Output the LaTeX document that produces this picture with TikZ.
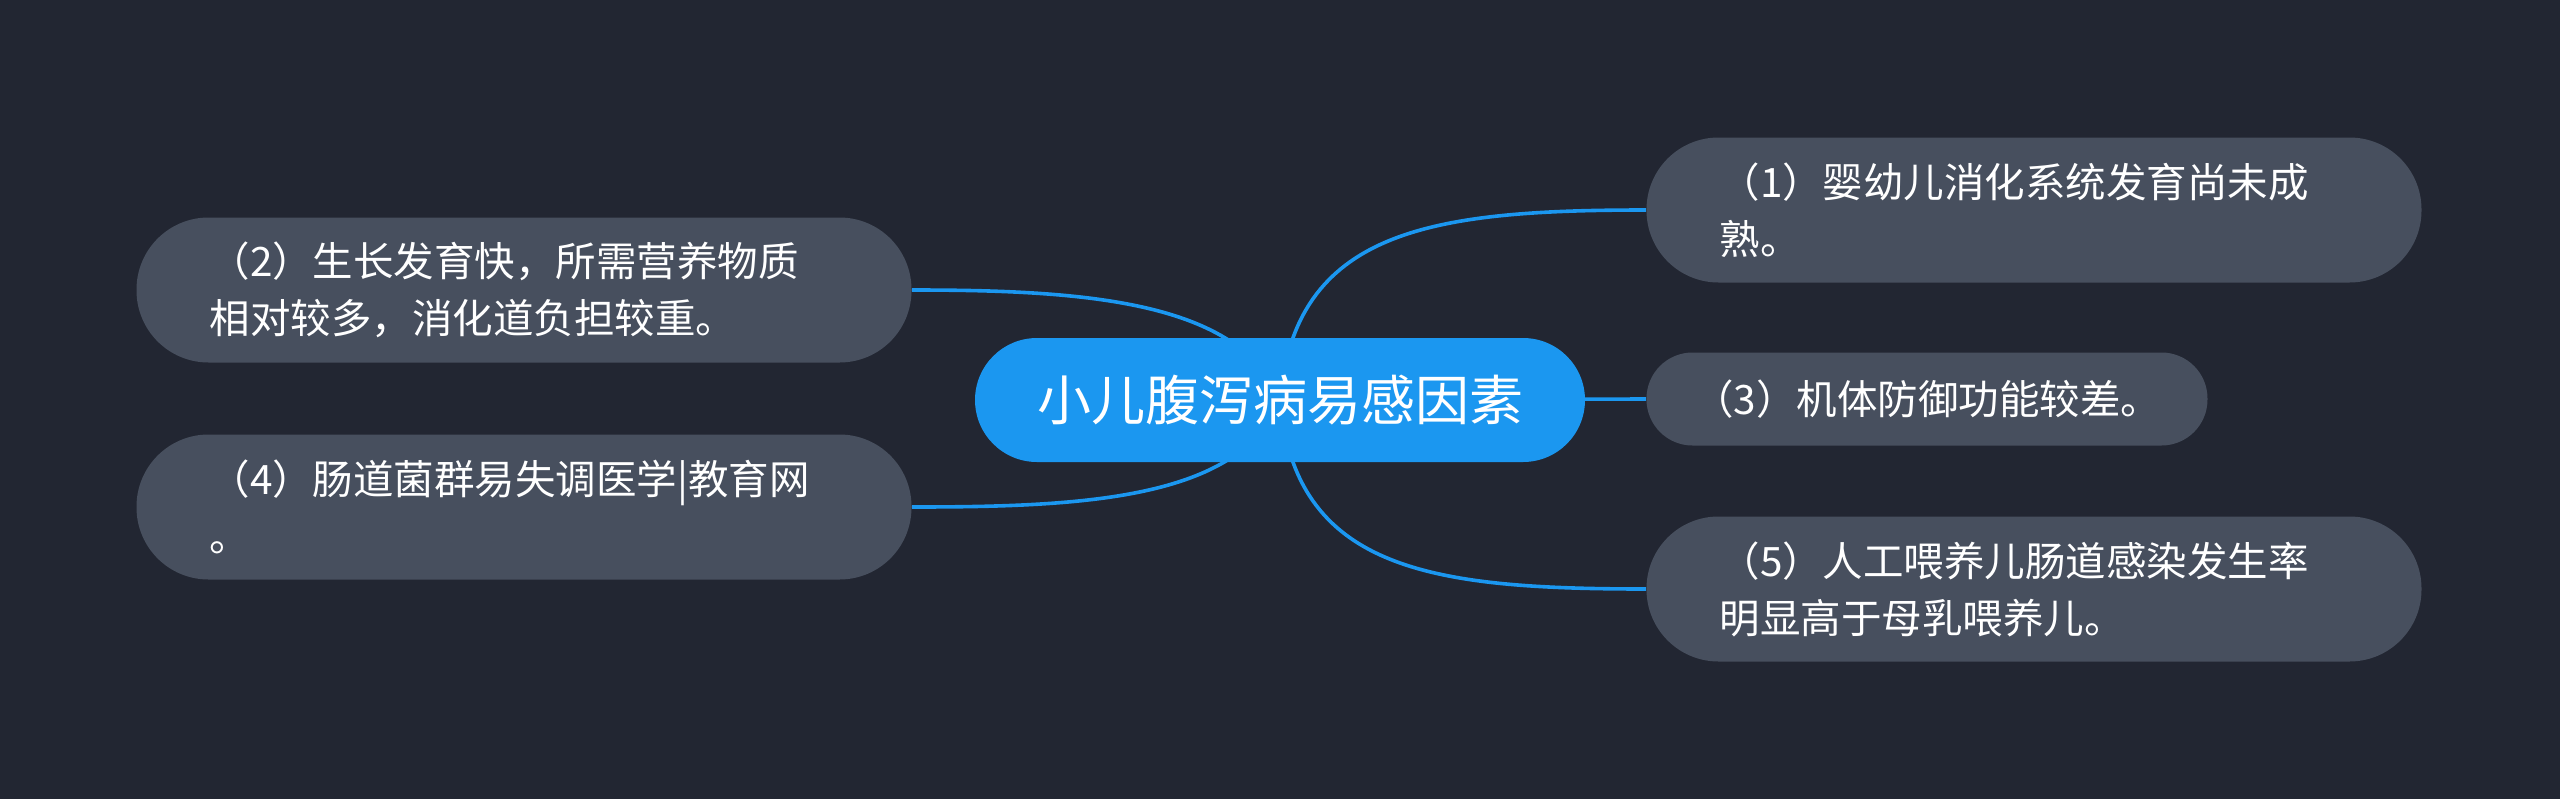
\documentclass[tikz,border=0pt]{standalone}
\usepackage{fontspec}
\setmainfont{Noto Sans CJK SC}
\definecolor{bgcol}{HTML}{222632}
\definecolor{boxcol}{HTML}{474F5E}
\definecolor{bluecol}{HTML}{1B97F0}
\pgfdeclarelayer{edges}
\pgfsetlayers{edges,main}

\begin{document}
\begin{tikzpicture}[x=0.5pt,y=-0.5pt,
    root/.style = {fill=bluecol, text=white, rounded corners=31pt, minimum width=305pt, minimum height=62pt, inner sep=0pt, font=\fontsize{27pt}{32pt}\selectfont},
    topic/.style = {fill=boxcol, text=white, rounded corners=36pt, text width=314.5pt, align=left, inner xsep=36.5pt, inner ysep=0pt, minimum height=72.5pt, font=\fontsize{20.25pt}{28.5pt}\selectfont},
    short/.style = {fill=boxcol, text=white, rounded corners=23pt, minimum width=280.5pt, minimum height=46.5pt, inner sep=0pt, font=\fontsize{20.25pt}{28.5pt}\selectfont},
    link/.style = {draw=bluecol, line width=1.8pt}]
        \useasboundingbox (0,0) rectangle (2560,798);
        \node[root] (root) at (1280,400) {小儿腹泻病易感因素};
        \node[topic] (n1) at (2034,210) {（1）婴幼儿消化系统发育尚未成\\熟。};
        \node[topic] (n2) at (524,290) {（2）生长发育快，所需营养物质\\相对较多，消化道负担较重。};
        \node[short] (n3) at (1927,399) {（3）机体防御功能较差。};
        \node[topic] (n4) at (524,507) {（4）肠道菌群易失调医学|教育网\\。};
        \node[topic] (n5) at (2034,589) {（5）人工喂养儿肠道感染发生率\\明显高于母乳喂养儿。};
        \begin{pgfonlayer}{edges}
        \fill[bgcol] (-20,-20) rectangle (2580,818);
        \draw[link] (root.center) .. controls +(15,-170) and +(-216,0) .. (n1.west);
        \draw[link] (root.center) .. controls +(-40,-100) and +(169,0) .. (n2.east);
        \draw[link] (root.center) -- (n3.west);
        \draw[link] (root.center) .. controls +(-40,100) and +(169,0) .. (n4.east);
        \draw[link] (root.center) .. controls +(15,170) and +(-216,0) .. (n5.west);
        \end{pgfonlayer}
\end{tikzpicture}
\end{document}
